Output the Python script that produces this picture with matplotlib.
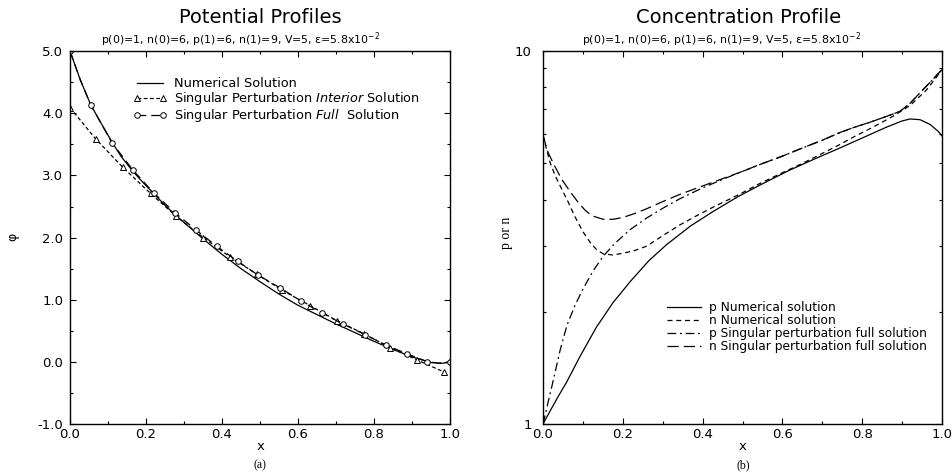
import numpy as np
import matplotlib
matplotlib.use("Agg")
import matplotlib.pyplot as plt
from matplotlib.ticker import MultipleLocator, FixedLocator, NullFormatter

# ---- (a) potential profiles ----
x_num = [0, 0.0275, 0.055, 0.08, 0.11, 0.135, 0.165, 0.19, 0.22, 0.25, 0.28,
         0.31, 0.35, 0.4, 0.45, 0.5, 0.55, 0.6, 0.65, 0.7, 0.75, 0.8, 0.85,
         0.9, 0.95, 0.975, 0.99, 1.0]
phi_num = [5.0, 4.53, 4.13, 3.86, 3.54, 3.3, 3.07, 2.9, 2.71, 2.52, 2.35,
           2.19, 1.98, 1.73, 1.50, 1.29, 1.09, 0.91, 0.76, 0.61, 0.47, 0.33,
           0.20, 0.08, -0.01, -0.025, -0.015, 0.0]

x_int = [0, 0.068, 0.139, 0.212, 0.28, 0.351, 0.421, 0.492, 0.559, 0.632, 0.703,
         0.774, 0.842, 0.914, 0.985]
phi_int = [4.09, 3.585, 3.13, 2.71, 2.34, 2.0, 1.69, 1.41, 1.15, 0.905, 0.66,
           0.45, 0.23, 0.03, -0.166]

x_full = [0, 0.0275, 0.055, 0.11, 0.165, 0.22, 0.276, 0.332, 0.386, 0.441, 0.494,
          0.553, 0.608, 0.662, 0.718, 0.776, 0.831, 0.887, 0.939, 0.97, 1.0]
phi_full = [5.0, 4.53, 4.13, 3.53, 3.09, 2.72, 2.40, 2.12, 1.86, 1.62, 1.40,
            1.19, 0.98, 0.79, 0.61, 0.44, 0.27, 0.13, 0.005, -0.02, 0.0]
full_marks = [0, 2, 3, 4, 5, 6, 7, 8, 9, 10, 11, 12, 13, 14, 15, 16, 17, 18, 20]

# ---- (b) concentration profiles ----
x_pnum = [0, 0.015, 0.035, 0.06, 0.093, 0.134, 0.176, 0.22, 0.265, 0.31, 0.37,
          0.427, 0.49, 0.552, 0.615, 0.677, 0.744, 0.8, 0.86, 0.9, 0.92, 0.945,
          0.97, 0.99, 1.0]
p_num = [1.0, 1.07, 1.17, 1.3, 1.52, 1.82, 2.12, 2.42, 2.74, 3.03, 3.4,
         3.72, 4.08, 4.42, 4.78, 5.12, 5.5, 5.85, 6.25, 6.5, 6.58, 6.55,
         6.36, 6.1, 5.92]

x_nnum = [0, 0.008, 0.018, 0.03, 0.043, 0.064, 0.08, 0.1, 0.12, 0.135, 0.151,
          0.175, 0.2, 0.23, 0.26, 0.3, 0.343, 0.385, 0.427, 0.49, 0.544, 0.6,
          0.65, 0.7, 0.744, 0.78, 0.82, 0.85, 0.88, 0.92, 0.96, 0.98, 1.0]
n_num = [5.95, 5.5, 5.02, 4.65, 4.35, 3.92, 3.6, 3.28, 3.05, 2.93, 2.86,
         2.84, 2.87, 2.92, 3.0, 3.2, 3.42, 3.62, 3.82, 4.12, 4.42, 4.72,
         5.0, 5.32, 5.62, 5.9, 6.2, 6.45, 6.72, 7.15, 7.85, 8.35, 8.93]

x_pfull = [0, 0.009, 0.025, 0.043, 0.06, 0.08, 0.1, 0.125, 0.151, 0.18, 0.218,
           0.26, 0.302, 0.343, 0.4, 0.45, 0.5, 0.544, 0.6, 0.65, 0.7, 0.744,
           0.78, 0.82, 0.86, 0.895, 0.92, 0.945, 0.97, 1.0]
p_full = [1.0, 1.1, 1.3, 1.58, 1.84, 2.08, 2.3, 2.57, 2.82, 3.05, 3.32,
          3.57, 3.8, 4.02, 4.3, 4.53, 4.76, 4.97, 5.23, 5.5, 5.77, 6.05,
          6.25, 6.45, 6.68, 6.9, 7.25, 7.74, 8.25, 8.93]

x_nfull = [0, 0.006, 0.013, 0.03, 0.047, 0.068, 0.089, 0.105, 0.122, 0.151,
           0.175, 0.2, 0.23, 0.26, 0.3, 0.343, 0.4, 0.45, 0.5, 0.544, 0.6,
           0.65, 0.7, 0.744, 0.78, 0.82, 0.86, 0.895, 0.92, 0.945, 0.97, 1.0]
n_full = [5.95, 5.65, 5.34, 4.9, 4.53, 4.2, 3.92, 3.75, 3.62, 3.54,
          3.54, 3.58, 3.67, 3.78, 3.95, 4.13, 4.35, 4.55, 4.76, 4.97, 5.23,
          5.5, 5.77, 6.05, 6.25, 6.45, 6.68, 6.9, 7.25, 7.74, 8.25, 8.93]

subtitle = r'p(0)=1, n(0)=6, p(1)=6, n(1)=9, V=5, ε=5.8x10$^{-2}$'

plt.rcParams['font.family'] = ['DejaVu Sans']
fig = plt.figure(figsize=(9.53, 4.74), dpi=100)
ax1 = fig.add_axes([0.0735, 0.1055, 0.3987, 0.7865])
ax2 = fig.add_axes([0.5698, 0.1055, 0.4187, 0.7865])

ax1.plot(x_num, phi_num, color='black', lw=0.9, label='Numerical Solution')
ax1.plot(x_int, phi_int, color='black', lw=0.9, ls=(0, (3, 2)), marker='^',
         ms=4, mfc='white', mew=0.7,
         label='Singular Perturbation $\\it{Interior}$ Solution')
ax1.plot(x_full, phi_full, color='black', lw=0.9, ls=(0, (7, 4)), marker='o',
         ms=4, mfc='white', mew=0.7, markevery=full_marks,
         label='Singular Perturbation $\\it{Full}$  Solution')

ax1.set_xlim(0, 1)
ax1.set_ylim(-1, 5)
ax1.xaxis.set_major_locator(MultipleLocator(0.2))
ax1.xaxis.set_minor_locator(MultipleLocator(0.1))
ax1.yaxis.set_major_locator(MultipleLocator(1.0))
ax1.yaxis.set_minor_locator(MultipleLocator(0.5))
ax1.xaxis.set_major_formatter(matplotlib.ticker.FormatStrFormatter('%.1f'))
ax1.yaxis.set_major_formatter(matplotlib.ticker.FormatStrFormatter('%.1f'))
ax1.legend(loc='upper left', bbox_to_anchor=(0.166, 0.93), frameon=False,
           fontsize=9.3, numpoints=2, handlelength=2.6, handletextpad=0.55,
           labelspacing=0.0, borderpad=0, borderaxespad=0)

ax2.plot(x_pnum, p_num, color='black', lw=0.9, label='p Numerical solution')
ax2.plot(x_nnum, n_num, color='black', lw=0.9, ls=(0, (4, 3)),
         label='n Numerical solution')
ax2.plot(x_pfull, p_full, color='black', lw=0.9, ls=(0, (7, 3, 1.5, 3)),
         label='p Singular perturbation full solution')
ax2.plot(x_nfull, n_full, color='black', lw=0.9, ls=(0, (9, 4)),
         label='n Singular perturbation full solution')
ax2.set_yscale('log')
ax2.set_xlim(0, 1)
ax2.set_ylim(1, 10)
ax2.xaxis.set_major_locator(MultipleLocator(0.2))
ax2.xaxis.set_minor_locator(MultipleLocator(0.1))
ax2.xaxis.set_major_formatter(matplotlib.ticker.FormatStrFormatter('%.1f'))
ax2.yaxis.set_major_locator(FixedLocator([1, 10]))
ax2.yaxis.set_major_formatter(matplotlib.ticker.FixedFormatter(['1', '10']))
ax2.yaxis.set_minor_locator(FixedLocator([2, 3, 4, 5, 6, 7, 8, 9]))
ax2.yaxis.set_minor_formatter(NullFormatter())
ax2.legend(loc='upper left', bbox_to_anchor=(0.311, 0.33), frameon=False,
           fontsize=8.8, handlelength=2.8, handletextpad=0.6,
           labelspacing=0.0, borderpad=0, borderaxespad=0)

for ax in (ax1, ax2):
    ax.tick_params(which='both', direction='in', top=True, right=True,
                   labelsize=9.5, width=0.8)
    ax.tick_params(which='major', length=4.5, pad=3)
    ax.tick_params(which='minor', length=2.5)
    for s in ax.spines.values():
        s.set_linewidth(1.0)
ax1.tick_params(axis='y', which='major', pad=5)
ax2.tick_params(axis='y', which='major', pad=8)

# titles and labels
fig.text(0.273, 0.964, 'Potential Profiles', ha='center', va='center', fontsize=14)
fig.text(0.775, 0.964, 'Concentration Profile', ha='center', va='center', fontsize=14)
fig.text(0.252, 0.9156, subtitle, ha='center', va='center', fontsize=7.9)
fig.text(0.757, 0.9156, subtitle, ha='center', va='center', fontsize=7.9)
fig.text(0.273, 0.057, 'x', ha='center', va='center', fontsize=9.5)
fig.text(0.7795, 0.057, 'x', ha='center', va='center', fontsize=9.5)
fig.text(0.273, 0.019, '(a)', ha='center', va='center', fontsize=8.5,
         family='Liberation Serif')
fig.text(0.7795, 0.019, '(b)', ha='center', va='center', fontsize=8.5,
         family='Liberation Serif')
fig.text(0.0136, 0.5, 'φ', ha='center', va='center', fontsize=9, rotation=90)
fig.text(0.532, 0.508, 'p or n', ha='center', va='center', fontsize=10,
         rotation=90, family='Liberation Serif')

fig.savefig('out.png', dpi=100)
